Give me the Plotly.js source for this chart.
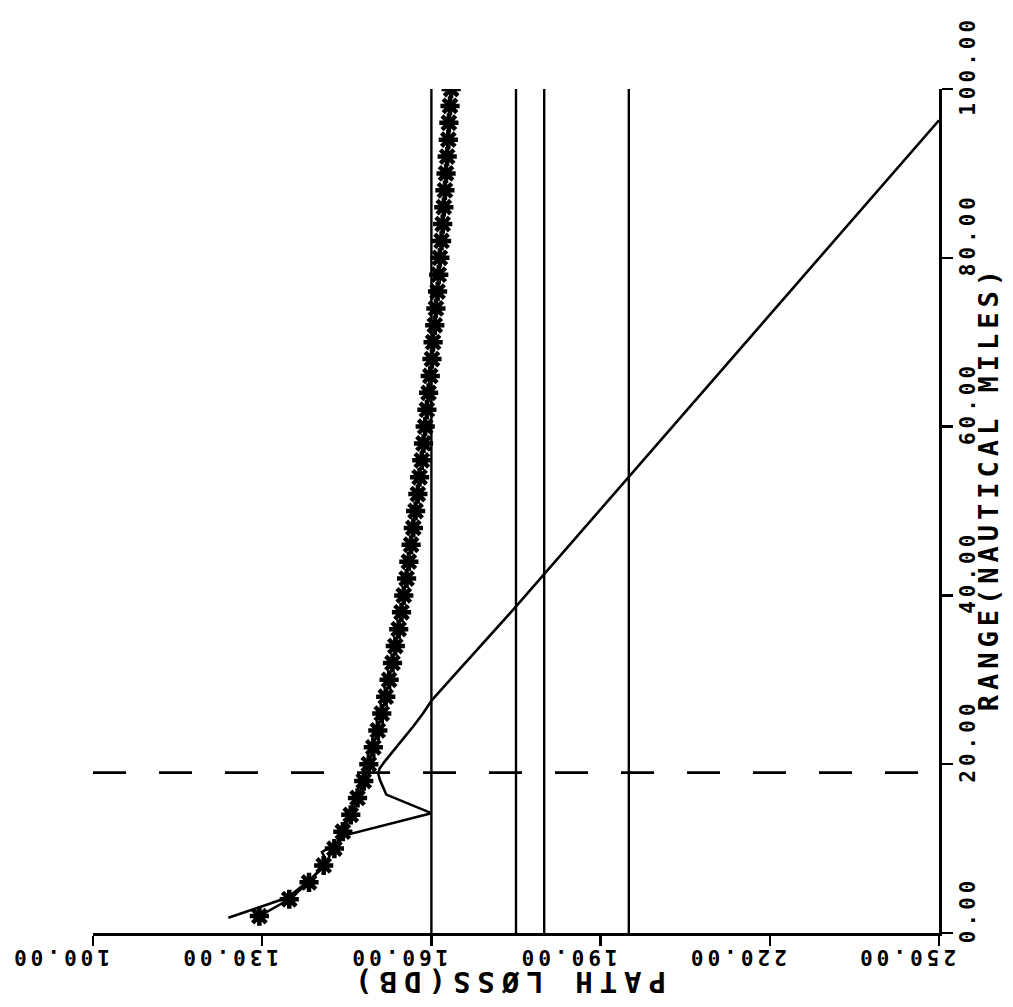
<!DOCTYPE html>
<html>
<head>
<meta charset="utf-8">
<script src="https://cdn.plot.ly/plotly-3.0.1.min.js"></script>
<style>
html,body{margin:0;padding:0;background:#fff;}
#chart{width:1013px;height:1007px;}
.xtick text,.ytick text{letter-spacing:4px;}
.annotation-text{letter-spacing:5px;}
.annotation[data-index="1"] .annotation-text{letter-spacing:7px;}
</style>
</head>
<body>
<div id="chart"></div>
<script>
// ---- data ----
const lossTicks = [100, 130, 160, 190, 220, 250];
const lossTickLabels = ["100.00", "130.00", "160.00", "190.00", "220.00", "250.00"];
const rangeTicks = [0, 20, 40, 60, 80, 100];
const rangeTickLabels = ["0.00", "20.00", "40.00", "60.00", "80.00", "100.00"];

// asterisk series (path loss dB vs range nm)
const starRange = [2,4,6,8,10,12,14,16,18,20,22,24,26,28,30,32,34,36,38,40,42,44,46,48,50,
                   52,54,56,58,60,62,64,66,68,70,72,74,76,78,80,82,84,86,88,90,92,94,96,98,100];
const starLoss  = [129.5,134.8,138.3,140.9,142.8,144.3,145.7,146.9,148.0,148.9,149.7,150.5,151.2,151.9,152.5,
                   153.1,153.6,154.2,154.7,155.1,155.6,156.0,156.4,156.8,157.2,157.6,157.9,158.3,158.6,158.9,
                   159.2,159.5,159.8,160.1,160.3,160.6,160.8,161.1,161.3,161.5,161.8,162.0,162.2,162.4,162.6,
                   162.8,163.0,163.1,163.3,163.5];

// solid curve
const solidRange = [1.8, 4.2, 6.3, 8.4, 9.6, 10.6, 11.6, 14.2, 16.4, 18.1, 18.8, 19.5, 20.3, 21.2, 22.2,
                    23.3, 24.5, 26.0, 27.6, 30.0, 33.0, 36.0, 38.6, 96.3];
const solidLoss  = [124.0, 134.5, 138.5, 141.5, 140.6, 143.2, 144.8, 160.0, 152.0, 150.9, 150.6, 150.8, 151.7,
                    152.8, 154.1, 155.4, 156.8, 158.5, 160.1, 163.3, 167.4, 171.4, 174.9, 250.0];

// constant path-loss reference lines (dB)
const refLoss = [160, 175, 180, 195];
const refRangeSpan = [0, 100];

// dashed horizontal range line (nm)
const dashedRange = 19;
const dashedLossSpan = [100, 250];

// ---- traces ----
const traces = [];
refLoss.forEach(v => {
  traces.push({
    x: [v, v], y: refRangeSpan, mode: 'lines', type: 'scatter',
    line: {color: '#000', width: 2.4}, hoverinfo: 'skip', showlegend: false
  });
});
traces.push({
  x: dashedLossSpan, y: [dashedRange, dashedRange], mode: 'lines', type: 'scatter',
  line: {color: '#000', width: 2.8, dash: '33px,33px'}, hoverinfo: 'skip', showlegend: false
});
traces.push({
  x: solidLoss, y: solidRange, mode: 'lines', type: 'scatter',
  line: {color: '#000', width: 2.6, shape: 'linear'}, showlegend: false
});
traces.push({
  x: starLoss, y: starRange, mode: 'lines+markers', type: 'scatter',
  line: {color: '#000', width: 2.4},
  marker: {symbol: 'asterisk-open', size: 16, color: '#000', line: {color: '#000', width: 4.5}},
  showlegend: false
});

const font = {family: '"DejaVu Sans Mono", monospace', color: '#000', weight: 'bold'};

const layout = {
  width: 1013, height: 1007,
  margin: {l: 93, r: 74, t: 89, b: 74, pad: 0},
  paper_bgcolor: '#fff', plot_bgcolor: '#fff',
  showlegend: false,
  xaxis: {
    range: [100, 250], autorange: false,
    tickmode: 'array', tickvals: lossTicks, ticktext: lossTickLabels,
    tickangle: 180, ticks: 'outside', ticklen: 10, tickwidth: 2.4, tickcolor: '#000',
    ticklabelshift: -33, ticklabelstandoff: 0,
    tickfont: Object.assign({size: 21}, font),
    showline: true, linecolor: '#000', linewidth: 2.6,
    showgrid: false, zeroline: false, mirror: false
  },
  yaxis: {
    range: [0, 100], autorange: false, side: 'right',
    tickmode: 'array', tickvals: rangeTicks, ticktext: rangeTickLabels,
    tickangle: -90, ticks: 'outside', ticklen: 11, tickwidth: 2.4, tickcolor: '#000',
    ticklabelshift: -20, ticklabelstandoff: -3,
    tickfont: Object.assign({size: 21}, font),
    showline: true, linecolor: '#000', linewidth: 2.6,
    showgrid: false, zeroline: false, mirror: false
  },
  annotations: [
    {text: 'RANGE(NAUTICAL MILES)', xref: 'paper', yref: 'paper', x: 1.058, y: 0.527,
     xanchor: 'center', yanchor: 'middle',
     showarrow: false, textangle: -90, font: Object.assign({size: 27}, font)},
    {text: 'PATH LØSS(DB)', xref: 'paper', yref: 'paper', x: 0.49, y: -0.058,
     xanchor: 'center', yanchor: 'middle',
     showarrow: false, textangle: 180, font: Object.assign({size: 29}, font)}
  ]
};

Plotly.newPlot('chart', traces, layout, {displayModeBar: false, staticPlot: true});
</script>
</body>
</html>
